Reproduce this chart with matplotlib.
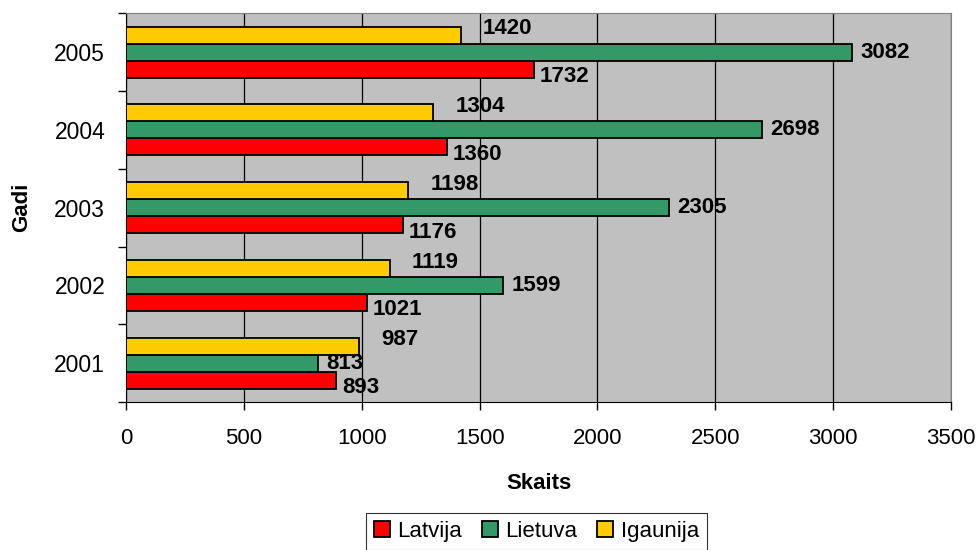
import numpy as np
import matplotlib.pyplot as plt

plt.rcParams['font.family'] = ['Liberation Sans', 'DejaVu Sans']

years = ['2001', '2002', '2003', '2004', '2005']
latvija = [893, 1021, 1176, 1360, 1732]
lietuva = [813, 1599, 2305, 2698, 3082]
igaunija = [987, 1119, 1198, 1304, 1420]

fig = plt.figure(figsize=(9.79, 5.5), dpi=100)
ax = fig.add_axes([0.1287, 0.269, 0.8427, 0.707])
ax.set_facecolor('#C0C0C0')

y = np.arange(len(years))
h = 0.218
series = [
    ('Latvija', latvija, '#FF0000', -h, (4, -5.5)),
    ('Lietuva', lietuva, '#339966', 0, (6, 0)),
    ('Igaunija', igaunija, '#FFCC00', h, (16, 4.5)),
]
for name, vals, col, off, (dx, dy) in series:
    ax.barh(y + off, vals, height=h, color=col, edgecolor='black', linewidth=1.3,
            label=name, zorder=3)
    for yi, v in zip(y + off, vals):
        ax.annotate(str(v), (v, yi), xytext=(dx, dy), textcoords='offset points',
                    ha='left', va='center', fontsize=16, fontweight='bold', zorder=4)

ax.set_xlim(0, 3500)
ax.set_ylim(-0.5, 4.5)
ax.set_xticks(np.arange(0, 3501, 500))
ax.set_yticks(y)
ax.set_yticklabels(years)
ax.set_yticks(np.arange(-0.5, 5, 1), minor=True)
ax.tick_params(axis='y', which='major', length=0, labelsize=16.5, pad=15)
ax.tick_params(axis='y', which='minor', length=6, width=1)
ax.tick_params(axis='x', length=6, width=1, labelsize=16, pad=13)
ax.grid(axis='x', color='black', linewidth=0.9, zorder=1)

for s in ['top', 'right']:
    ax.spines[s].set_color('#808080')
ax.spines['left'].set_color('black')
ax.spines['bottom'].set_color('black')

ax.set_xlabel('Skaits', fontsize=16, fontweight='bold', labelpad=17)
ax.set_ylabel('Gadi', fontsize=16, fontweight='bold', labelpad=16)

handles, labels = ax.get_legend_handles_labels()
leg = fig.legend(handles, labels, loc='center', bbox_to_anchor=(0.548, 0.034), ncol=3,
                 fontsize=16, frameon=True, fancybox=False, edgecolor='black',
                 handlelength=0.7, handleheight=0.7, handletextpad=0.35,
                 columnspacing=0.9, borderpad=0.35, borderaxespad=0.2)
leg.get_frame().set_linewidth(0.8)

fig.savefig('out.png', dpi=100)
